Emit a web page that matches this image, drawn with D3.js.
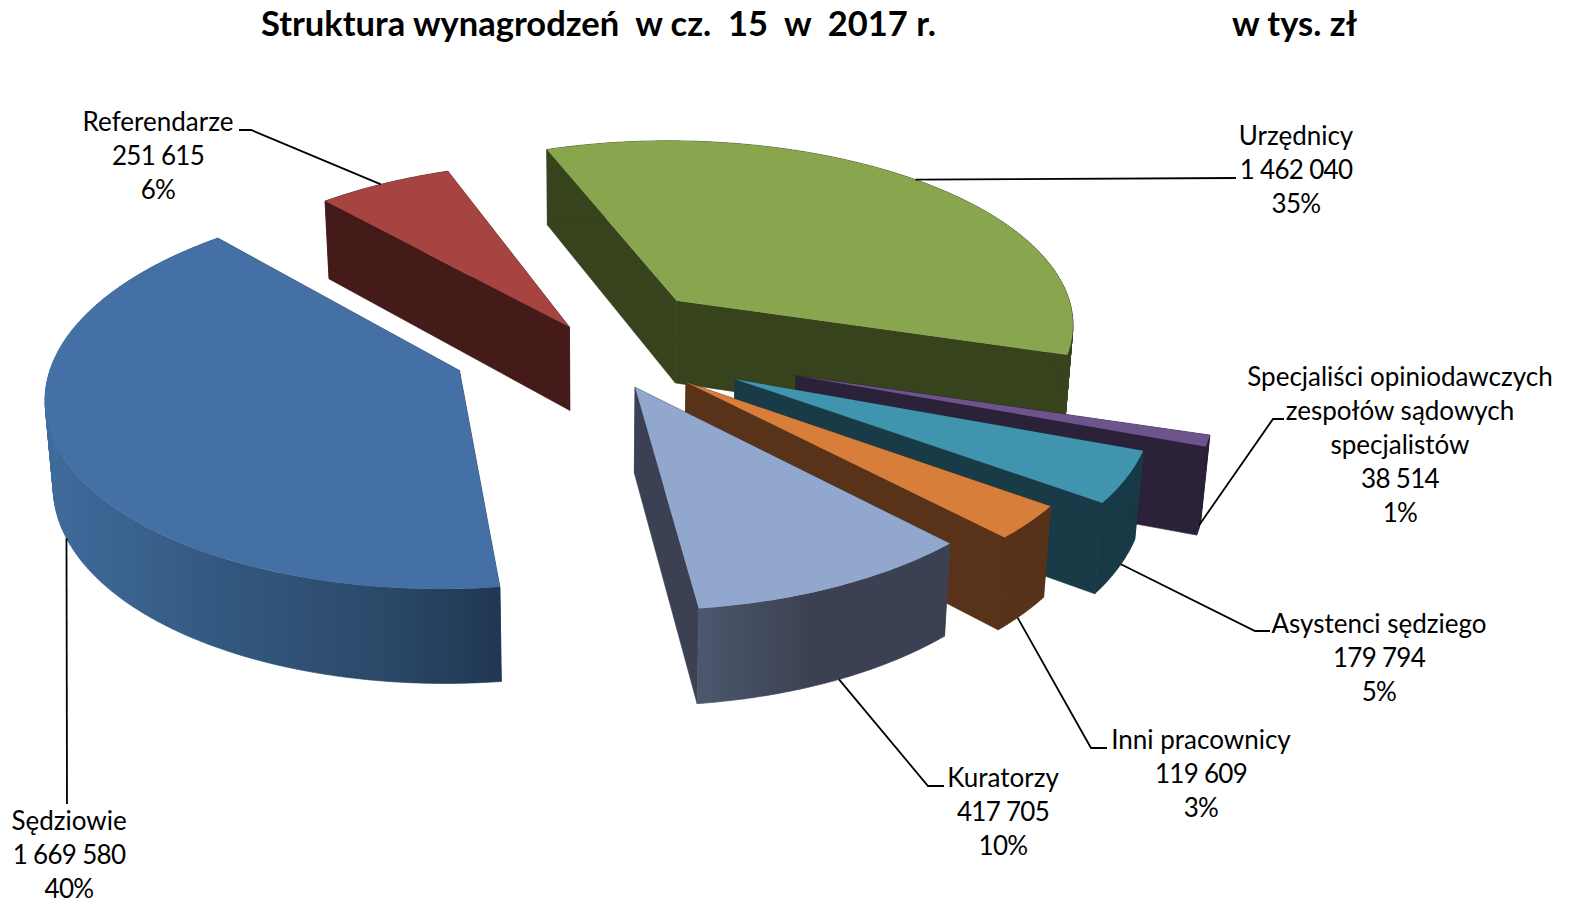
<!DOCTYPE html>
<html>
<head>
<meta charset="utf-8">
<script src="https://cdn.jsdelivr.net/npm/d3@7"></script>
<style>
html, body { margin: 0; padding: 0; background: #fff; }
text { font-family: Lato, "Open Sans", sans-serif; fill: #000; white-space: pre; }
</style>
</head>
<body>
<svg id="chart" width="1569" height="899"></svg>
<script>
// data, clockwise from the first slice
var categories = ["Urzędnicy", "Specjaliści opiniodawczych\nzespołów sądowych\nspecjalistów", "Asystenci sędziego", "Inni pracownicy", "Kuratorzy", "Sędziowie", "Referendarze"];
var values = [1462040, 38514, 179794, 119609, 417705, 1669580, 251615];
var valueLabels = ["1 462 040", "38 514", "179 794", "119 609", "417 705", "1 669 580", "251 615"];
var percentLabels = ["35%", "1%", "5%", "3%", "10%", "40%", "6%"];
var explosion = [0.32, 0.53, 0.40, 0.31, 0.255, 0.35, 0.10];

var topColors = ["#89a54e", "#6e548d", "#4094ae", "#d67e3a", "#92a7ce", "#4570a6", "#a64442"];
var wallColors = ["#37431d", "#2b2138", "#193b47", "#58331a", "#3b4152", "#2f5480", "#441b19"];
var drawOrder = [0, 6, 5, 1, 2, 3, 4];

var labelPos = [[1296, 145], [1400, 386], [1379, 633], [1201, 749], [1003, 787], [69, 830], [158, 131]];
var leaders = [
    { angle: 42.5, level: 0, path: [[1236, 178], [1236, 178]] },
    { angle: 109, level: 0.95, path: [[1284, 419], [1273, 419]] },
    { angle: 117.5, level: 1, path: [[1270, 631], [1255, 631]] },
    { angle: 132.5, level: 1, path: [[1107, 748], [1091, 748]] },
    { angle: 154, level: 1, path: [[944, 786], [928, 786]] },
    { angle: 247, level: 1, path: [[67, 804], [67, 804]] },
    { angle: 328.5, level: 0, path: [[239, 130], [251, 130]] }
];

var svg = d3.select("#chart");
var defs = svg.append("defs");

var R = 403, RY = 187, persp = 0.113, depth = 84, floorScale = 0.985;
var cx = 590, cy = 343;
var x = d3.scaleLinear().domain([-1, 1]).range([cx - R, cx + R]);
var y = d3.scaleLinear().domain([-1, 1]).range([cy + RY, cy - RY]);

function project(u, v, level) {
    var w = 1 + persp * v;
    var px = x(u / w), py = y(v / w);
    if (level) {
        px = cx + (px - cx) * (1 - (1 - floorScale) * level);
        py = py + level * depth / Math.pow(w, 0.85);
    }
    return [px, py];
}

var pie = d3.pie().sort(null).startAngle(340 * Math.PI / 180).endAngle(700 * Math.PI / 180);
var arcs = pie(values);
var line = d3.line();

function slicePoint(d, i, a, r, level) {
    var mid = (d.startAngle + d.endAngle) / 2;
    var u = explosion[i] * Math.sin(mid) + r * Math.sin(a);
    var v = explosion[i] * Math.cos(mid) + r * Math.cos(a);
    return project(u, v, level);
}

function arcAngles(d) {
    return d3.range(d.startAngle, d.endAngle, 0.01).concat([d.endAngle]);
}

// side shading on the outer wall of the two big front slices
function wallFill(i) {
    if (i !== 4 && i !== 5) return wallColors[i];
    var stops = i === 5 ? [["#3f6b9c", 0], ["#33587f", 0.4], ["#2b4868", 0.75], ["#1f3752", 1]]
        : [["#4c586e", 0], ["#3b4152", 0.45], ["#3b4152", 1]];
    var g = defs.append("linearGradient").attr("id", "wall" + i)
        .attr("gradientUnits", "objectBoundingBox").attr("x1", 0).attr("x2", 1).attr("y1", 0).attr("y2", 0);
    stops.forEach(function (s) {
        g.append("stop").attr("offset", s[1]).attr("stop-color", s[0]);
    });
    return "url(#wall" + i + ")";
}

drawOrder.forEach(function (i) {
    var d = arcs[i];
    var g = svg.append("g").attr("class", "slice");
    var angles = arcAngles(d);
    var topArc = angles.map(function (a) { return slicePoint(d, i, a, 1, 0); });
    var lowArc = angles.map(function (a) { return slicePoint(d, i, a, 1, 1); });
    var apex = slicePoint(d, i, 0, 0, 0), apexLow = slicePoint(d, i, 0, 0, 1);
    var cutColor = i === 5 ? "#1f3752" : wallColors[i];
    var outerFill = wallFill(i);

    // cut faces
    [d.startAngle, d.endAngle].forEach(function (a) {
        g.append("path")
            .attr("d", line([apex, slicePoint(d, i, a, 1, 0), slicePoint(d, i, a, 1, 1), apexLow]) + "Z")
            .attr("fill", cutColor)
            .attr("stroke", cutColor).attr("stroke-width", 0.6);
    });
    // outer wall, one quad per arc step so the silhouette stays closed
    var wallPath = d3.range(angles.length - 1).map(function (k) {
        return line([topArc[k], topArc[k + 1], lowArc[k + 1], lowArc[k]]) + "Z";
    }).join("");
    g.append("path")
        .attr("d", wallPath)
        .attr("fill", outerFill)
        .attr("stroke", outerFill).attr("stroke-width", 0.6);
    // top
    g.append("path")
        .attr("d", line([apex].concat(topArc)) + "Z")
        .attr("fill", topColors[i]);
});

// leader lines
leaders.forEach(function (l, i) {
    var end = slicePoint(arcs[i], i, l.angle * Math.PI / 180, 1, l.level);
    svg.append("path")
        .attr("d", line(l.path.concat([end])))
        .attr("fill", "none").attr("stroke", "#000").attr("stroke-width", 1.8);
});

// labels
var fontSize = 26, lineH = 34;
categories.forEach(function (c, i) {
    var names = c.split("\n");
    var rows = names.concat([valueLabels[i], percentLabels[i]]);
    var t = svg.append("text")
        .attr("text-anchor", "middle")
        .attr("font-size", fontSize);
    rows.forEach(function (r, k) {
        t.append("tspan")
            .attr("x", labelPos[i][0])
            .attr("y", labelPos[i][1] + k * lineH)
            .attr("letter-spacing", k >= names.length ? -0.7 : null)
            .text(r);
    });
});

svg.append("text").attr("x", 261).attr("y", 36).attr("font-size", 34.5).attr("font-weight", 700)
    .text("Struktura wynagrodzeń  w cz.  15  w  2017 r.");
svg.append("text").attr("x", 1232).attr("y", 36).attr("font-size", 34.5).attr("font-weight", 700)
    .text("w tys. zł");
</script>
</body>
</html>
